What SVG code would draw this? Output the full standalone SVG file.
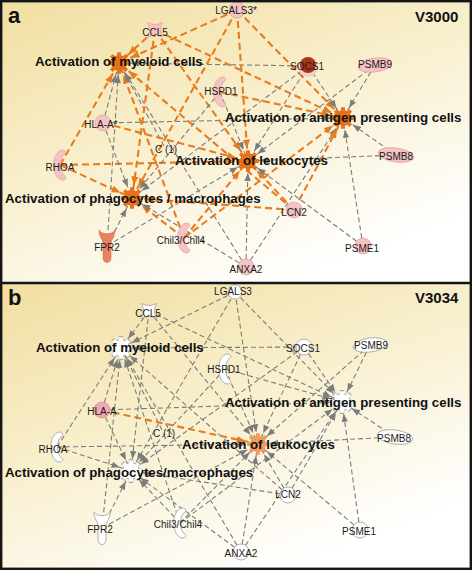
<svg xmlns="http://www.w3.org/2000/svg" xmlns:xlink="http://www.w3.org/1999/xlink" width="472" height="570" viewBox="0 0 472 570">
<style>
.g{stroke:#7c7c7c;stroke-width:1.1;stroke-dasharray:5 3;fill:none;marker-end:url(#ag)}
.o{stroke:#e87c20;stroke-width:2.1;stroke-dasharray:7 4;fill:none;marker-end:url(#ao)}
.gl{font-family:"Liberation Sans",Arial,sans-serif;font-size:10px;fill:#1a1a1a;text-anchor:middle}
.fl{font-family:"Liberation Sans",Arial,sans-serif;font-size:13.3px;font-weight:bold;fill:#111}
.pl{font-family:"Liberation Sans",Arial,sans-serif;font-weight:bold;fill:#111}
.pa{fill:#f4c3c3;stroke:#e8a4a4;stroke-width:0.8}
.pb{fill:#ffffff;stroke:#a8a8a8;stroke-width:0.9}
</style>
<defs>
<linearGradient id="bg" x1="0" y1="0" x2="0.6" y2="1">
<stop offset="0" stop-color="#f1dea0"/>
<stop offset="0.5" stop-color="#f8efcd"/>
<stop offset="1" stop-color="#ffffff"/>
</linearGradient>
<marker id="ag" viewBox="0 0 10 10" refX="25" refY="5" markerUnits="userSpaceOnUse" markerWidth="8" markerHeight="8" orient="auto"><path d="M0,1 L10,5 L0,9 z" fill="#7c7c7c"/></marker>
<marker id="ao" viewBox="0 0 10 10" refX="24" refY="5" markerUnits="userSpaceOnUse" markerWidth="9" markerHeight="9" orient="auto"><path d="M0,1 L10,5 L0,9 z" fill="#e87c20"/></marker>
<path id="gear" d="M-1.94,-7.76 L-1.91,-10.83 L1.91,-10.83 L1.94,-7.76 L4.12,-6.86 L6.31,-9.01 L9.01,-6.31 L6.86,-4.12 L7.76,-1.94 L10.83,-1.91 L10.83,1.91 L7.76,1.94 L6.86,4.12 L9.01,6.31 L6.31,9.01 L4.12,6.86 L1.94,7.76 L1.91,10.83 L-1.91,10.83 L-1.94,7.76 L-4.12,6.86 L-6.31,9.01 L-9.01,6.31 L-6.86,4.12 L-7.76,1.94 L-10.83,1.91 L-10.83,-1.91 L-7.76,-1.94 L-6.86,-4.12 L-9.01,-6.31 L-6.31,-9.01 L-4.12,-6.86 Z"/>
<path id="cres" d="M2,-15 C-9,-13 -9,13 2,15 C5,15 7,13 5,11 C-1,8 -1,-8 5,-11 C7,-13 5,-15 2,-15 Z"/>
<path id="cyto" d="M-7.5,-7.5 Q0,-3.5 7.5,-7.5 Q3.5,0 7.5,7.5 Q0,3.5 -7.5,7.5 Q-3.5,0 -7.5,-7.5 Z"/>
<path id="gpcr" d="M-8,-16 C-8,-8 -4,-7 -4,-2 L-4,12 C-4,18 4,18 4,12 L4,-2 C4,-7 8,-8 8,-16 C5,-11 -5,-11 -8,-16 Z"/>
</defs>

<rect x="0" y="0" width="472" height="283" fill="url(#bg)"/>
<rect x="0" y="283" width="472" height="287" fill="url(#bg)"/>

<g id="connectors-a">
<line class="o" x1="237" y1="10" x2="119" y2="63"/>
<line class="o" x1="155" y1="30" x2="119" y2="63"/>
<line class="g" x1="308" y1="66" x2="119" y2="63"/>
<line class="g" x1="103" y1="123" x2="119" y2="63"/>
<line class="o" x1="60" y1="165" x2="119" y2="63"/>
<line class="g" x1="107" y1="246" x2="119" y2="63"/>
<line class="o" x1="184" y1="238" x2="119" y2="63"/>
<line class="o" x1="294" y1="210" x2="119" y2="63"/>
<line class="g" x1="246" y1="267" x2="119" y2="63"/>
<line class="g" x1="164" y1="146" x2="119" y2="63"/>
<line class="o" x1="237" y1="10" x2="343" y2="118"/>
<line class="o" x1="155" y1="30" x2="343" y2="118"/>
<line class="g" x1="308" y1="66" x2="343" y2="118"/>
<line class="g" x1="375" y1="65" x2="343" y2="118"/>
<line class="o" x1="220" y1="92" x2="343" y2="118"/>
<line class="g" x1="103" y1="123" x2="343" y2="118"/>
<line class="g" x1="396" y1="155" x2="343" y2="118"/>
<line class="g" x1="363" y1="246" x2="343" y2="118"/>
<line class="g" x1="246" y1="267" x2="343" y2="118"/>
<line class="o" x1="294" y1="210" x2="343" y2="118"/>
<line class="o" x1="184" y1="238" x2="343" y2="118"/>
<line class="o" x1="237" y1="10" x2="248" y2="161"/>
<line class="o" x1="155" y1="30" x2="248" y2="161"/>
<line class="g" x1="308" y1="66" x2="248" y2="161"/>
<line class="g" x1="375" y1="65" x2="248" y2="161"/>
<line class="o" x1="103" y1="123" x2="248" y2="161"/>
<line class="o" x1="60" y1="165" x2="248" y2="161"/>
<line class="g" x1="107" y1="246" x2="248" y2="161"/>
<line class="o" x1="184" y1="238" x2="248" y2="161"/>
<line class="o" x1="294" y1="210" x2="248" y2="161"/>
<line class="g" x1="246" y1="267" x2="248" y2="161"/>
<line class="g" x1="363" y1="246" x2="248" y2="161"/>
<line class="g" x1="396" y1="155" x2="248" y2="161"/>
<line class="g" x1="220" y1="92" x2="248" y2="161"/>
<line class="o" x1="237" y1="10" x2="132" y2="198"/>
<line class="o" x1="155" y1="30" x2="132" y2="198"/>
<line class="g" x1="308" y1="66" x2="132" y2="198"/>
<line class="g" x1="103" y1="123" x2="132" y2="198"/>
<line class="o" x1="60" y1="165" x2="132" y2="198"/>
<line class="g" x1="107" y1="246" x2="132" y2="198"/>
<line class="o" x1="184" y1="238" x2="132" y2="198"/>
<line class="o" x1="294" y1="210" x2="132" y2="198"/>
<line class="g" x1="246" y1="267" x2="132" y2="198"/>
<line class="g" x1="220" y1="92" x2="132" y2="198"/>
</g>

<g id="connectors-b">
<line class="g" x1="235" y1="292" x2="121" y2="348"/>
<line class="g" x1="149" y1="311" x2="121" y2="348"/>
<line class="g" x1="304" y1="347" x2="121" y2="348"/>
<line class="g" x1="102" y1="410" x2="121" y2="348"/>
<line class="g" x1="57" y1="447" x2="121" y2="348"/>
<line class="g" x1="102" y1="528" x2="121" y2="348"/>
<line class="g" x1="180" y1="523" x2="121" y2="348"/>
<line class="g" x1="288" y1="495" x2="121" y2="348"/>
<line class="g" x1="241" y1="552" x2="121" y2="348"/>
<line class="g" x1="162" y1="430" x2="121" y2="348"/>
<line class="g" x1="235" y1="292" x2="342" y2="402"/>
<line class="g" x1="149" y1="311" x2="342" y2="402"/>
<line class="g" x1="304" y1="347" x2="342" y2="402"/>
<line class="g" x1="370" y1="345" x2="342" y2="402"/>
<line class="g" x1="225" y1="369" x2="342" y2="402"/>
<line class="g" x1="102" y1="410" x2="342" y2="402"/>
<line class="g" x1="395" y1="437" x2="342" y2="402"/>
<line class="g" x1="360" y1="530" x2="342" y2="402"/>
<line class="g" x1="241" y1="552" x2="342" y2="402"/>
<line class="g" x1="288" y1="495" x2="342" y2="402"/>
<line class="g" x1="180" y1="523" x2="342" y2="402"/>
<line class="g" x1="235" y1="292" x2="258" y2="444"/>
<line class="g" x1="149" y1="311" x2="258" y2="444"/>
<line class="g" x1="304" y1="347" x2="258" y2="444"/>
<line class="g" x1="370" y1="345" x2="258" y2="444"/>
<line class="o" x1="102" y1="410" x2="258" y2="444"/>
<line class="g" x1="57" y1="447" x2="258" y2="444"/>
<line class="g" x1="102" y1="528" x2="258" y2="444"/>
<line class="g" x1="180" y1="523" x2="258" y2="444"/>
<line class="g" x1="288" y1="495" x2="258" y2="444"/>
<line class="g" x1="241" y1="552" x2="258" y2="444"/>
<line class="g" x1="360" y1="530" x2="258" y2="444"/>
<line class="g" x1="395" y1="437" x2="258" y2="444"/>
<line class="g" x1="225" y1="369" x2="258" y2="444"/>
<line class="g" x1="235" y1="292" x2="131" y2="471"/>
<line class="g" x1="149" y1="311" x2="131" y2="471"/>
<line class="g" x1="304" y1="347" x2="131" y2="471"/>
<line class="g" x1="102" y1="410" x2="131" y2="471"/>
<line class="g" x1="57" y1="447" x2="131" y2="471"/>
<line class="g" x1="102" y1="528" x2="131" y2="471"/>
<line class="g" x1="180" y1="523" x2="131" y2="471"/>
<line class="g" x1="288" y1="495" x2="131" y2="471"/>
<line class="g" x1="241" y1="552" x2="131" y2="471"/>
<line class="g" x1="225" y1="369" x2="131" y2="471"/>
</g>

<!-- Panel a nodes -->
<g id="a-LGALS3"><circle class="pa" cx="237" cy="10" r="8"/><text class="gl" x="236" y="14">LGALS3*</text></g>
<g id="a-CCL5"><use href="#cyto" class="pa" transform="translate(155,30)"/><text class="gl" x="155" y="36">CCL5</text></g>
<g id="a-myeloid"><use href="#gear" fill="#e8701a" transform="translate(119,63)"/><text class="fl" x="35" y="66">Activation of myeloid cells</text></g>
<g id="a-HSPD1"><use href="#cres" class="pa" transform="translate(220,92)"/><text class="gl" x="221" y="95">HSPD1</text></g>
<g id="a-HLA-A"><circle class="pa" cx="103" cy="123" r="8"/><text class="gl" x="101" y="128">HLA-A*</text></g>
<g id="a-SOCS1"><circle cx="308" cy="67" r="10" fill="#f6cfc6"/><circle cx="308" cy="65" r="8" fill="#a8361a"/><text class="gl" x="307" y="70">SOCS1</text></g>
<g id="a-PSMB9"><ellipse class="pa" cx="375" cy="65" rx="17" ry="7" transform="rotate(-8 375 65)"/><text class="gl" x="375" y="68">PSMB9</text></g>
<g id="a-antigen"><use href="#gear" fill="#e8701a" transform="translate(343,118)"/><text class="fl" x="225" y="122">Activation of antigen presenting cells</text></g>
<g id="a-RHOA"><use href="#cres" class="pa" transform="translate(60,165)"/><text class="gl" x="60" y="171">RHOA</text></g>
<g id="a-C1"><text class="gl" x="166" y="153">C (1)</text></g>
<g id="a-leukocytes"><use href="#gear" fill="#e8701a" transform="translate(248,161)"/><text class="fl" x="175" y="165">Activation of leukocytes</text></g>
<g id="a-PSMB8"><ellipse class="pa" cx="396" cy="155" rx="18" ry="7" transform="rotate(8 396 155)"/><text class="gl" x="396" y="160">PSMB8</text></g>
<g id="a-phagocytes"><use href="#gear" fill="#e8701a" transform="translate(132,198)"/><text class="fl" x="5" y="203">Activation of phagocytes / macrophages</text></g>
<g id="a-FPR2"><use href="#gpcr" fill="#e9825f" stroke="#d87050" stroke-width="0.6" transform="translate(107,246)"/><text class="gl" x="107" y="251">FPR2</text></g>
<g id="a-Chil3"><use href="#cres" class="pa" transform="translate(184,238)"/><text class="gl" x="181" y="244">Chil3/Chil4</text></g>
<g id="a-LCN2"><circle class="pa" cx="294" cy="210" r="8"/><text class="gl" x="294" y="216">LCN2</text></g>
<g id="a-PSME1"><circle class="pa" cx="363" cy="246" r="8"/><text class="gl" x="362" y="252">PSME1</text></g>
<g id="a-ANXA2"><circle class="pa" cx="246" cy="267" r="8"/><text class="gl" x="246" y="273">ANXA2</text></g>

<!-- Panel b nodes -->
<g id="b-LGALS3"><circle class="pb" cx="235" cy="292" r="7"/><text class="gl" x="233" y="295">LGALS3</text></g>
<g id="b-CCL5"><use href="#cyto" class="pb" transform="translate(149,311)"/><text class="gl" x="148" y="317">CCL5</text></g>
<g id="b-myeloid"><use href="#gear" fill="#a8a8a8" transform="translate(121,348) scale(1.1)"/><use href="#gear" fill="#ffffff" transform="translate(121,348)"/><text class="fl" x="36" y="352">Activation of myeloid cells</text></g>
<g id="b-HSPD1"><use href="#cres" class="pb" transform="translate(225,369)"/><text class="gl" x="224" y="373">HSPD1</text></g>
<g id="b-HLA-A"><circle cx="102" cy="410" r="8" fill="#f1a8b0" stroke="#e290a0" stroke-width="0.8"/><text class="gl" x="102" y="415">HLA-A</text></g>
<g id="b-SOCS1"><circle class="pb" cx="304" cy="347" r="8"/><text class="gl" x="303" y="352">SOCS1</text></g>
<g id="b-PSMB9"><ellipse class="pb" cx="370" cy="345" rx="17" ry="7" transform="rotate(-8 370 345)"/><text class="gl" x="371" y="349">PSMB9</text></g>
<g id="b-antigen"><use href="#gear" fill="#a8a8a8" transform="translate(342,402) scale(1.1)"/><use href="#gear" fill="#ffffff" transform="translate(342,402)"/><text class="fl" x="225" y="407">Activation of antigen presenting cells</text></g>
<g id="b-RHOA"><use href="#cres" class="pb" transform="translate(57,447)"/><text class="gl" x="53" y="453">RHOA</text></g>
<g id="b-C1"><text class="gl" x="164" y="437">C (1)</text></g>
<g id="b-leukocytes"><use href="#gear" fill="#ef9c5c" transform="translate(258,444)"/><text class="fl" x="182" y="449">Activation of leukocytes</text></g>
<g id="b-PSMB8"><ellipse class="pb" cx="395" cy="437" rx="18" ry="7" transform="rotate(8 395 437)"/><text class="gl" x="394" y="442">PSMB8</text></g>
<g id="b-phagocytes"><use href="#gear" fill="#a8a8a8" transform="translate(131,471) scale(1.1)"/><use href="#gear" fill="#ffffff" transform="translate(131,471)"/><text class="fl" x="5" y="477">Activation of phagocytes/macrophages</text></g>
<g id="b-FPR2"><use href="#gpcr" class="pb" transform="translate(102,528)"/><text class="gl" x="100" y="533">FPR2</text></g>
<g id="b-Chil3"><use href="#cres" class="pb" transform="translate(180,523)"/><text class="gl" x="178" y="528">Chil3/Chil4</text></g>
<g id="b-LCN2"><circle class="pb" cx="288" cy="495" r="8"/><text class="gl" x="288" y="498">LCN2</text></g>
<g id="b-PSME1"><circle class="pb" cx="360" cy="530" r="8"/><text class="gl" x="359" y="535">PSME1</text></g>
<g id="b-ANXA2"><circle class="pb" cx="241" cy="552" r="8"/><text class="gl" x="241" y="557">ANXA2</text></g>

<text class="pl" x="8" y="23" font-size="22">a</text>
<text class="pl" x="415" y="22" font-size="15">V3000</text>
<text class="pl" x="8" y="305" font-size="22">b</text>
<text class="pl" x="415" y="303" font-size="15">V3034</text>

<rect x="1.2" y="1.2" width="469.6" height="567.6" fill="none" stroke="#151515" stroke-width="2.4"/>
<line x1="0" y1="283" x2="472" y2="283" stroke="#151515" stroke-width="2.4"/>
</svg>
